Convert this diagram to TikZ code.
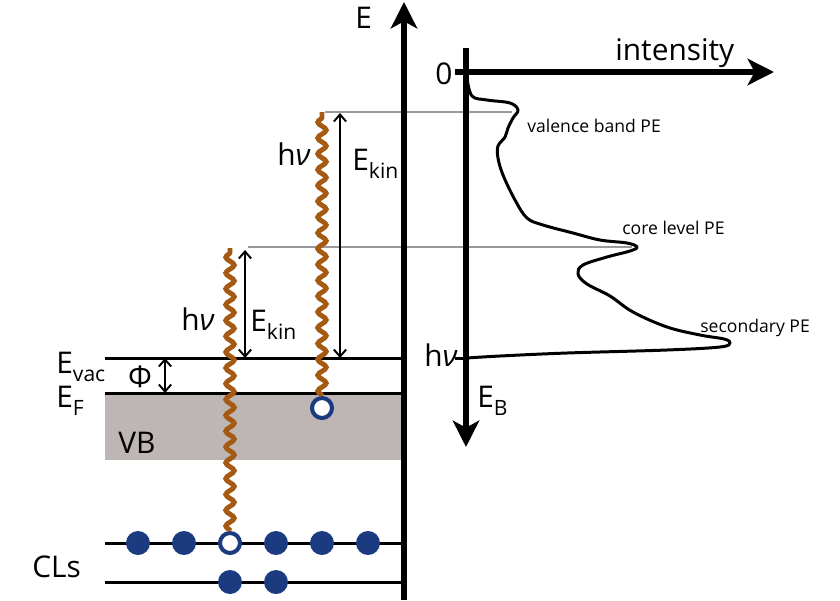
\documentclass[tikz,border=0pt]{standalone}
\usepackage{fontspec}
\setmainfont{Open Sans}
\usetikzlibrary{arrows.meta, decorations.pathmorphing, positioning}
\definecolor{photonbrown}{RGB}{165,90,20}
\definecolor{dotblue}{RGB}{27,58,128}
\definecolor{vbgray}{RGB}{190,182,180}
\newcommand\lowidx[1]{\raisebox{-0.55ex}{\fontsize{12pt}{14pt}\selectfont #1}}

\begin{document}
\begin{tikzpicture}[x=0.02cm, y=-0.02cm,
    big/.style={font=\fontsize{17pt}{20pt}\selectfont, inner sep=0pt, anchor=base west},
    small/.style={font=\fontsize{10pt}{12pt}\selectfont, inner sep=0pt, anchor=base west},
    level/.style={line width=1.7pt},
    axis/.style={line width=3.4pt, -{Stealth[length=15pt, width=15pt, inset=4pt]}},
    guide/.style={line width=1.2pt, black!40},
    span/.style={line width=1.1pt, {Straight Barb[length=4pt, width=7pt]}-{Straight Barb[length=4pt, width=7pt]}},
    photon/.style={draw=photonbrown, line width=2.8pt, decorate,
        decoration={snake, amplitude=2.4pt, segment length=9pt}},
    electron/.style={circle, fill=dotblue, minimum size=0.48cm, inner sep=0pt},
    hole/.style={circle, draw=dotblue, fill=white, line width=2.3pt, minimum size=0.4cm, inner sep=0pt}
]
    \useasboundingbox (0,0) rectangle (840,600);

    % Valence band
    \fill[vbgray] (105,393) rectangle (402,460);

    % Guide lines to the spectrum peaks
    \draw[guide] (325,112) -- (512,112);
    \draw[guide] (248,247) -- (632,247);

    % Energy levels
    \draw[level] (105,358) -- (404,358);
    \draw[level] (105,393) -- (404,393);
    \draw[level] (105,543) -- (404,543);
    \draw[level] (105,582) -- (404,582);

    % Energy axis
    \draw[axis] (404,600) -- (404,2);
    \node[big] (elabel) at (355,28) {E};

    % Labels of the levels
    \node[big] (evac) at (56,373) {E\lowidx{vac}};
    \node[big] (ef) at (56,407) {E\lowidx{F}};
    \node[big] (vb) at (118,453) {VB};
    \node[big] (cls) at (32,577) {CLs};
    \node[big, anchor=center] (phi) at (140,377) {Φ};

    % Core level and valence electrons
    \foreach \x/\n in {138/a, 184/b, 276/c, 322/d, 368/e}
        \node[electron] (cl\n) at (\x,543) {};
    \node[electron] (clf) at (230,582) {};
    \node[electron] (clg) at (276,582) {};
    \node[hole] (hole1) at (230,543) {};
    \node[hole] (hole2) at (322,408) {};

    % Photons
    \coordinate (top1) at (230,248);
    \coordinate (top2) at (322,112);
    \draw[photon] (hole1) -- (top1);
    \draw[photon] (hole2) -- (top2);
    \node[big] (hnu1) at (181,330) {h\textit{ν}};
    \node[big] (hnu2) at (277,165) {h\textit{ν}};

    % Kinetic energies and work function
    \coordinate (kin1a) at (245,250);
    \coordinate (kin1b) at (245,358);
    \coordinate (kin2a) at (340,113);
    \coordinate (kin2b) at (340,358);
    \coordinate (phia) at (165,358);
    \coordinate (phib) at (165,393);
    \draw[span] (kin1a) -- (kin1b);
    \draw[span] (kin2a) -- (kin2b);
    \draw[span] (phia) -- (phib);
    \node[big] (ekin1) at (250,331) {E\lowidx{kin}};
    \node[big] (ekin2) at (352,170) {E\lowidx{kin}};

    % Spectrum axes
    \draw[axis] (466,48) -- (466,447);
    \draw[axis] (455,72) -- (774,72);
    \node[big] (intensity) at (615,60) {intensity};
    \node[big, anchor=center] (zero) at (444,74) {0};
    \draw[level] (455,358) -- (466,358);
    \node[big] (hnu3) at (424,366) {h\textit{ν}};
    \node[big] (eb) at (477,407) {E\lowidx{B}};

    % Photoemission spectrum
    \draw[line width=1.7pt, line join=round] plot[smooth, tension=0.6] coordinates {
        (467,78) (472,96) (487,100) (510,103) (518,110) (513,118) (508,128)
        (505,137) (498,146) (498,158) (503,175) (515,200) (527,218) (543,225)
        (573,233) (600,240) (627,243) (637,247) (630,251) (607,257) (583,265)
        (578,274) (587,284) (610,296) (633,312) (667,327) (700,335) (724,339)
        (730,343) (720,347) (667,350) (567,353) (500,356) (467,358)};
    \node[small] (vbpe) at (527,132) {valence band PE};
    \node[small] (clpe) at (622,234) {core level PE};
    \node[small] (secpe) at (700,332) {secondary PE};
\end{tikzpicture}
\end{document}
